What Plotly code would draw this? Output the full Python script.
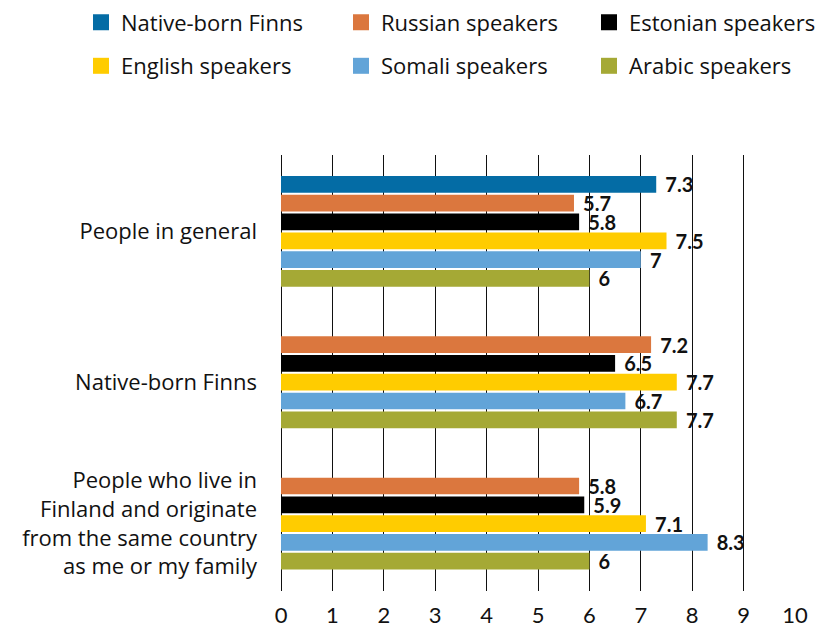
import plotly.graph_objects as go

categories = ["People in general", "Native-born Finns",
              "People who live in<br>Finland and originate<br>from the same country<br>as me or my family"]
series_names = ["Native-born Finns", "Russian speakers", "Estonian speakers",
                "English speakers", "Somali speakers", "Arabic speakers"]
native_born = [7.3, None, None]
russian = [5.7, 7.2, 5.8]
estonian = [5.8, 6.5, 5.9]
english = [7.5, 7.7, 7.1]
somali = [7.0, 6.7, 8.3]
arabic = [6.0, 7.7, 6.0]
series_values = [native_born, russian, estonian, english, somali, arabic]
colors = ["#046CA5", "#DB773E", "#000000", "#FFCC00", "#62A4D8", "#A5A935"]
x_ticks = list(range(0, 11))

FONT = "Open Sans"
NUMFONT = "Lato"
W, H = 815, 619  # page body adds an 8px margin around the figure
bargap = 0.202
n = len(series_names)
slot = (1 - bargap) / n
pos = list(range(len(categories)))

fig = go.Figure()
for i, (name, vals, col) in enumerate(zip(series_names, series_values, colors)):
    fig.add_trace(go.Bar(
        y=pos, x=vals, orientation="h", name=name,
        marker=dict(color=col, line=dict(width=0)),
        texttemplate="\u00a0\u200a%{x}", textposition="outside",
        textfont=dict(family=NUMFONT, size=20, color="#111111", weight="bold"),
        constraintext="none", cliponaxis=False, showlegend=False,
    ))

# legend: one single-item legend per entry, laid out as a 3x2 grid
legend_x = [73, 333, 581]
legend_y = [14.5, 58]
legend_layout = {}
for i, (name, col) in enumerate(zip(series_names, colors)):
    key = "legend" if i == 0 else f"legend{i + 1}"
    fig.add_trace(go.Scatter(
        x=[None], y=[None], mode="markers", name=name,
        marker=dict(symbol="square", size=17, color=col),
        legend=key, showlegend=True,
    ))
    legend_layout[key] = dict(
        xref="container", yref="container",
        x=legend_x[i % 3] / W, y=1 - legend_y[i // 3] / H,
        xanchor="left", yanchor="middle",
        font=dict(family=FONT, size=22, color="#111111"),
        itemsizing="trace", bgcolor="rgba(0,0,0,0)",
    )

# tick label centre for each group = centre of bars present
tickvals = []
for g in pos:
    offs = [(k - (n - 1) / 2) * slot for k in range(n) if series_values[k][g] is not None]
    tickvals.append(g + sum(offs) / len(offs))

fig.update_layout(
    width=W, height=H,
    margin=dict(l=273, r=28, t=147, b=36, autoexpand=False),
    paper_bgcolor="white", plot_bgcolor="white",
    barmode="group", bargap=bargap, bargroupgap=0.11,
    font=dict(family=FONT, size=21, color="#111111"),
    xaxis=dict(range=[0, 10], tickvals=x_ticks, showgrid=True, gridcolor="#111111",
               gridwidth=1.3, zeroline=True, zerolinecolor="#111111", zerolinewidth=1.3,
               showline=False, ticks="", ticklabelstandoff=9, automargin=False,
               tickfont=dict(family=NUMFONT, size=22, color="#111111")),
    yaxis=dict(range=[2.543, -0.540], tickvals=tickvals, ticktext=categories,
               showgrid=False, zeroline=False, showline=False, ticks="",
               ticklabelstandoff=23, automargin=False,
               tickfont=dict(family=FONT, size=22, color="#111111")),
    **legend_layout,
)
fig.write_html("out.html")
